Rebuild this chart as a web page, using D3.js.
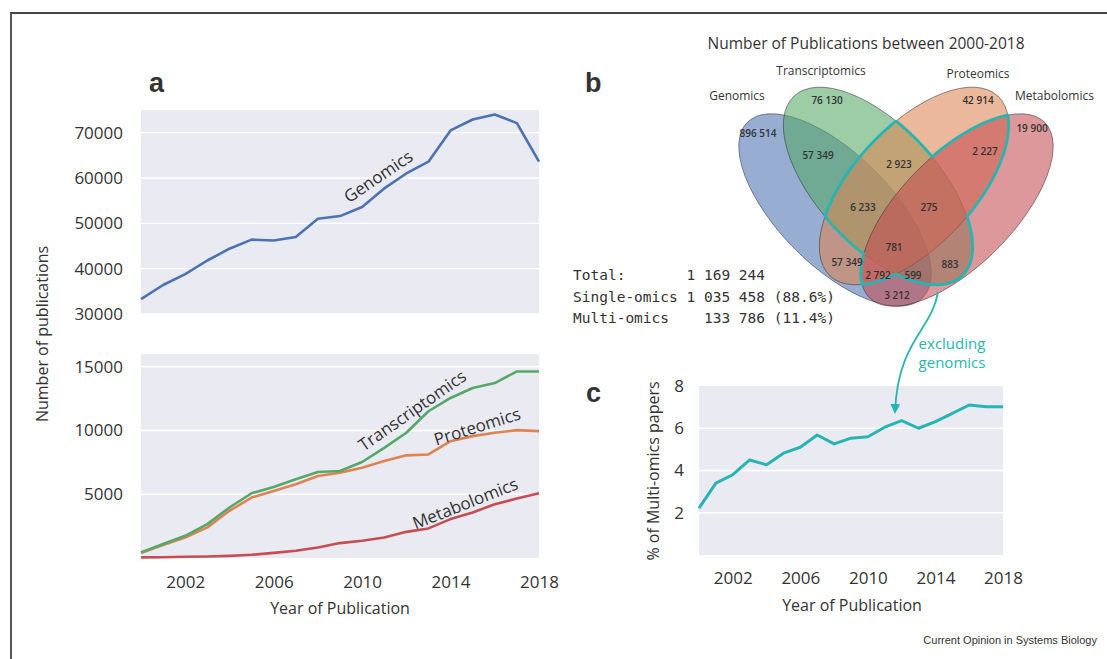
<!DOCTYPE html>
<html><head><meta charset="utf-8">
<script src="https://cdn.jsdelivr.net/npm/d3@7/dist/d3.min.js"></script>
<style>
body{margin:0;background:#fff}
svg text{font-family:"Open Sans",sans-serif;fill:#333}
</style></head><body>
<svg id="chart" width="1107" height="659"></svg>
<script>
// ---------------- DATA ----------------
const years = [2000,2001,2002,2003,2004,2005,2006,2007,2008,2009,2010,2011,2012,2013,2014,2015,2016,2017,2018];
const genomics = [33300,36400,38800,41800,44400,46400,46200,47000,51000,51600,53600,57700,61000,63600,70500,72900,74000,72100,63600];
const transcriptomics = [440,1100,1740,2660,3960,5080,5570,6170,6750,6820,7530,8640,9820,11510,12550,13330,13720,14630,14630];
const proteomics = [400,1010,1610,2400,3700,4740,5260,5780,6430,6690,7080,7600,8050,8120,9160,9560,9820,10030,9950];
const metabolomics = [50,60,100,120,170,250,400,570,830,1170,1350,1610,2050,2320,3050,3570,4220,4660,5080];
const multiOmicsPct = [2.22,3.4,3.8,4.5,4.27,4.82,5.1,5.68,5.26,5.53,5.6,6.05,6.36,6.0,6.31,6.7,7.1,7.02,7.02];

const topTicks = [30000,40000,50000,60000,70000];
const bottomTicks = [5000,10000,15000];
const yearTicks = [2002,2006,2010,2014,2018];
const pctTicks = [2,4,6,8];

const vennSets = ["Genomics","Transcriptomics","Proteomics","Metabolomics"];
// region membership codes (G,T,P,M) and counts
const vennRegions = ["1000","0100","0010","0001","1100","0110","0011","1110","0111","1111","1010","0101","1011","1101","1001"];
const vennCounts = ["896 514","76 130","42 914","19 900","57 349","2 923","2 227","6 233","275","781","57 349","883","2 792","599","3 212"];
const summaryLines = ["Total:       1 169 244","Single-omics 1 035 458 (88.6%)","Multi-omics    133 786 (11.4%)"];

// ---------------- STYLE / LAYOUT ----------------
const colors = {Genomics:"#4c72b0",Transcriptomics:"#55a868",Proteomics:"#dd8452",Metabolomics:"#c44e52"};
const teal = "#27b5b3";
const bg = "#eaeaf2";

const svg = d3.select("#chart");

// frame
svg.append("path").attr("d","M11,659 L11,13 L1107,13").attr("fill","none").attr("stroke","#444").attr("stroke-width",1.8);

// ---------------- PANEL A ----------------
const xA = d3.scaleLinear().domain([2000,2018]).range([141,539]);
const yTop = d3.scaleLinear().domain([30000,75000]).range([314,110]);
const yBot = d3.scaleLinear().domain([0,16000]).range([558,354]);

function panelBg(x, y){
  svg.append("rect").attr("x",x.range()[0]).attr("y",y.range()[1])
    .attr("width",x.range()[1]-x.range()[0]).attr("height",y.range()[0]-y.range()[1]).attr("fill",bg);
}
function grid(x, y, ticks){
  svg.append("g").selectAll("line").data(ticks).join("line")
    .attr("x1",x.range()[0]).attr("x2",x.range()[1])
    .attr("y1",d=>y(d)).attr("y2",d=>y(d)).attr("stroke","#fff").attr("stroke-width",1.3);
}
function yAxis(y, ticks, xpos, fs){
  const g = svg.append("g").attr("transform",`translate(${xpos},0)`)
    .call(d3.axisLeft(y).tickValues(ticks).tickSize(0).tickPadding(0).tickFormat(d3.format("d")));
  g.select(".domain").remove();
  g.selectAll("text").attr("font-size",fs).attr("fill","#333").style("font-family","Open Sans");
}
function xAxis(x, ypos, fs){
  const g = svg.append("g").attr("transform",`translate(0,${ypos})`)
    .call(d3.axisBottom(x).tickValues(yearTicks).tickSize(0).tickPadding(0).tickFormat(d3.format("d")));
  g.select(".domain").remove();
  g.selectAll("text").attr("font-size",fs).attr("fill","#333").attr("dy","0.32em").style("font-family","Open Sans");
}

panelBg(xA, yTop); grid(xA, yTop, topTicks);
panelBg(xA, yBot); grid(xA, yBot, bottomTicks);

yAxis(yTop, topTicks, 123, 17);
yAxis(yBot, bottomTicks, 123, 17);
xAxis(xA, 583, 17);

function drawLine(x, y, vals, color, w){
  const line = d3.line().x((d,i)=>x(years[i])).y(d=>y(d));
  svg.append("path").datum(vals).attr("d",line).attr("fill","none")
    .attr("stroke",color).attr("stroke-width",w).attr("stroke-linejoin","round");
}
drawLine(xA, yTop, genomics, colors.Genomics, 2.6);
drawLine(xA, yBot, metabolomics, colors.Metabolomics, 2.6);
drawLine(xA, yBot, proteomics, colors.Proteomics, 2.6);
drawLine(xA, yBot, transcriptomics, colors.Transcriptomics, 2.6);

function rotLabel(txt, x, y, ang, fs){
  svg.append("text").attr("transform",`translate(${x},${y}) rotate(${ang})`)
    .attr("text-anchor","middle").attr("dominant-baseline","central")
    .attr("font-size",fs).attr("fill","#333").text(txt);
}
rotLabel("Genomics", 378, 176, -34, 17);
rotLabel("Transcriptomics", 412, 410, -35, 17);
rotLabel("Proteomics", 477, 426, -17.5, 17);
rotLabel("Metabolomics", 465, 503, -21.5, 17);

svg.append("text").attr("x",340).attr("y",608).attr("text-anchor","middle").attr("dominant-baseline","central")
  .attr("font-size",16).text("Year of Publication");
svg.append("text").attr("transform","translate(42,334) rotate(-90)").attr("text-anchor","middle")
  .attr("dominant-baseline","central").attr("font-size",16).text("Number of publications");

function panelLetter(t,x,y){
  svg.append("text").attr("x",x).attr("y",y).attr("font-size",27).attr("font-weight","bold")
    .style("font-family","Liberation Sans, Arial, sans-serif").attr("fill","#111").text(t);
}
panelLetter("a",149,92);
panelLetter("b",585,92);
panelLetter("c",586,402);

// ---------------- PANEL B (Venn) ----------------
svg.append("text").attr("x",866).attr("y",43).attr("text-anchor","middle").attr("dominant-baseline","central")
  .attr("font-size",15.5).attr("fill","#222").text("Number of Publications between 2000-2018");

const ellipses = [
  {cx:835, cy:210, a:124, b:56, angle:45},
  {cx:878, cy:186, a:123, b:60, angle:47},
  {cx:914, cy:186, a:123, b:60, angle:-47},
  {cx:957, cy:210, a:124, b:56, angle:-45}
];
const vg = svg.append("g");
vg.selectAll("ellipse").data(ellipses).join("ellipse")
  .attr("cx",d=>d.cx).attr("cy",d=>d.cy).attr("rx",d=>d.a).attr("ry",d=>d.b)
  .attr("transform",d=>`rotate(${d.angle} ${d.cx} ${d.cy})`)
  .attr("fill",(d,i)=>colors[vennSets[i]]).attr("fill-opacity",0.58)
  .attr("stroke","#333").attr("stroke-opacity",0.65).attr("stroke-width",0.8);

function inside(e,x,y){
  const th=e.angle*Math.PI/180, dx=x-e.cx, dy=y-e.cy;
  const m=dx*Math.cos(th)+dy*Math.sin(th), p=-dx*Math.sin(th)+dy*Math.cos(th);
  return (m*m)/(e.a*e.a)+(p*p)/(e.b*e.b) <= 1;
}
function boundary(e,n){
  const th=e.angle*Math.PI/180, pts=[];
  for(let k=0;k<=n;k++){
    const t=2*Math.PI*k/n;
    pts.push([e.cx+e.a*Math.cos(t)*Math.cos(th)-e.b*Math.sin(t)*Math.sin(th),
              e.cy+e.a*Math.cos(t)*Math.sin(th)+e.b*Math.sin(t)*Math.cos(th)]);
  }
  return pts;
}
// outline of region belonging to at least two of Transcriptomics/Proteomics/Metabolomics
[1,2,3].forEach(i=>{
  const others=[1,2,3].filter(j=>j!==i);
  const pts=boundary(ellipses[i],1440).map(p=>({p,on:others.filter(j=>inside(ellipses[j],p[0],p[1])).length===1}));
  const line=d3.line().defined(d=>d.on).x(d=>d.p[0]).y(d=>d.p[1]);
  vg.append("path").attr("d",line(pts)).attr("fill","none").attr("stroke",teal)
    .attr("stroke-width",2.8).attr("stroke-linejoin","round").attr("stroke-linecap","round");
});

const setLabelPos = [[737,95,"middle"],[821,70,"middle"],[978,73,"middle"],[1015,95,"start"]];
vg.selectAll("text.setname").data(vennSets).join("text").attr("class","setname")
  .attr("x",(d,i)=>setLabelPos[i][0]).attr("y",(d,i)=>setLabelPos[i][1])
  .attr("text-anchor",(d,i)=>setLabelPos[i][2]).attr("dominant-baseline","central")
  .attr("font-size",12).attr("fill","#333").text(d=>d);

const regionPos = {"1000":[758,133],"0100":[827,100],"0010":[978,100],"0001":[1032,128],
  "1100":[818,155],"0110":[899,164],"0011":[985,151],"1110":[863,207],"0111":[929,207],
  "1111":[894,247],"1010":[847,262],"0101":[950,264],"1011":[878,275],"1101":[913,275],"1001":[897,295]};
vg.selectAll("text.count").data(vennRegions).join("text").attr("class","count")
  .attr("x",d=>regionPos[d][0]).attr("y",d=>regionPos[d][1])
  .attr("text-anchor","middle").attr("dominant-baseline","central")
  .attr("font-size",10).attr("font-weight",600).attr("fill","#1a1a1a")
  .text((d,i)=>vennCounts[i]);

svg.append("g").selectAll("text").data(summaryLines).join("text")
  .attr("x",573).attr("y",(d,i)=>280+i*21.5)
  .style("font-family","DejaVu Sans Mono, monospace").style("white-space","pre")
  .attr("font-size",14.5).attr("fill","#222").text(d=>d);

// ---------------- PANEL C ----------------
const xC = d3.scaleLinear().domain([2000,2018]).range([699,1003]);
const yC = d3.scaleLinear().domain([0,8]).range([555,386]);
panelBg(xC, yC); grid(xC, yC, [2,4,6]);
yAxis(yC, pctTicks, 684, 17);
xAxis(xC, 579, 17);
drawLine(xC, yC, multiOmicsPct, teal, 3);
svg.append("text").attr("x",852).attr("y",605).attr("text-anchor","middle").attr("dominant-baseline","central")
  .attr("font-size",16).text("Year of Publication");
svg.append("text").attr("transform","translate(653,471) rotate(-90)").attr("text-anchor","middle")
  .attr("dominant-baseline","central").attr("font-size",16).text("% of Multi-omics papers");

// arrow from the Venn outline to panel c (drawn on top)
const defs = svg.append("defs");
defs.append("marker").attr("id","ah").attr("viewBox","0 0 10 10").attr("refX",8).attr("refY",5)
  .attr("markerWidth",10).attr("markerHeight",10).attr("markerUnits","userSpaceOnUse").attr("orient","auto")
  .append("path").attr("d","M0,0 L10,5 L0,10 Z").attr("fill",teal);
svg.append("path").attr("d","M938,292 C932,330 898,340 895,412").attr("fill","none")
  .attr("stroke",teal).attr("stroke-width",1.8).attr("marker-end","url(#ah)");
svg.append("text").attr("x",952).attr("y",343).attr("text-anchor","middle").attr("dominant-baseline","central")
  .attr("font-size",15).style("fill",teal).text("excluding");
svg.append("text").attr("x",952).attr("y",362).attr("text-anchor","middle").attr("dominant-baseline","central")
  .attr("font-size",15).style("fill",teal).text("genomics");

// footer
svg.append("text").attr("x",1097).attr("y",640).attr("text-anchor","end").attr("dominant-baseline","central")
  .style("font-family","Liberation Sans, Arial, sans-serif").attr("font-size",11).attr("fill","#444")
  .text("Current Opinion in Systems Biology");
</script></body></html>
